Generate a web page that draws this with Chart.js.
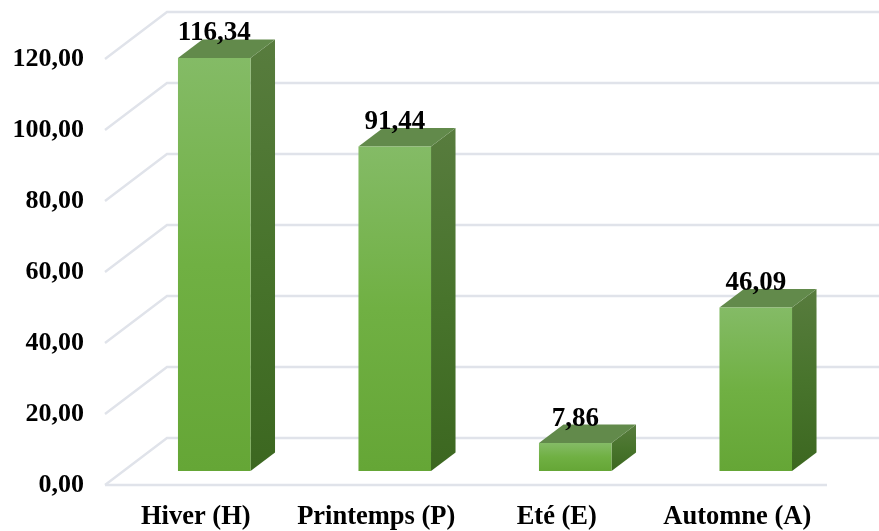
<!DOCTYPE html>
<html><head><meta charset="utf-8">
<style>html,body{margin:0;padding:0;background:#fff}canvas{display:block}</style>
<script src="https://cdn.jsdelivr.net/npm/chart.js@4"></script>
</head><body><canvas id="c" width="879" height="531"></canvas>
<script>
const categories = ["Hiver (H)", "Printemps (P)", "Eté (E)", "Automne (A)"];
const values = [116.34, 91.44, 7.86, 46.09];
const axisMax = 120, axisStep = 20;
const fr = v => v.toFixed(2).replace('.', ',');
const FONT = '"Liberation Serif", serif';
// depth of bars and of the floor/wall box relative to the bar plane
const barDx = 24.5, barDy = -18.5;
const wallBack = {dx: 43, dy: -33}, wallFront = {dx: -19, dy: 14};
const GRID = '#e0e3ea';

const box3d = {
  id: 'box3d',
  beforeDatasetsDraw(chart) {
    const {ctx, chartArea: a, scales: {y}} = chart;
    ctx.save();
    ctx.strokeStyle = GRID; ctx.lineWidth = 2.4; ctx.lineCap = 'butt';
    y.ticks.forEach(t => {
      const py = y.getPixelForValue(t.value);
      ctx.beginPath();
      ctx.moveTo(a.left + wallFront.dx, py + wallFront.dy);
      ctx.lineTo(a.left + wallBack.dx, py + wallBack.dy);
      ctx.lineTo(879, py + wallBack.dy);
      ctx.stroke();
    });
    const p0 = y.getPixelForValue(0);
    ctx.beginPath();
    ctx.moveTo(a.left + wallFront.dx, p0 + wallFront.dy);
    ctx.lineTo(a.right + wallFront.dx, p0 + wallFront.dy);
    ctx.stroke();
    // top and side faces of each bar
    chart.getDatasetMeta(0).data.forEach(b => {
      const l = b.x - b.width / 2, r = b.x + b.width / 2, t = b.y, bt = b.base;
      const side = ctx.createLinearGradient(0, t + barDy, 0, bt);
      side.addColorStop(0, '#587c3e'); side.addColorStop(0.5, '#48742c'); side.addColorStop(1, '#3c6720');
      ctx.fillStyle = side;
      ctx.beginPath();
      ctx.moveTo(r, t); ctx.lineTo(r + barDx, t + barDy); ctx.lineTo(r + barDx, bt + barDy); ctx.lineTo(r, bt);
      ctx.closePath(); ctx.fill();
      ctx.fillStyle = '#628a4b';
      ctx.beginPath();
      ctx.moveTo(l, t); ctx.lineTo(l + barDx, t + barDy); ctx.lineTo(r + barDx, t + barDy); ctx.lineTo(r, t);
      ctx.closePath(); ctx.fill();
    });
    ctx.restore();
  },
  afterDatasetsDraw(chart) {
    const {ctx} = chart;
    ctx.save();
    ctx.fillStyle = '#000';
    ctx.font = 'bold 27px ' + FONT;
    ctx.textAlign = 'center'; ctx.textBaseline = 'alphabetic';
    chart.getDatasetMeta(0).data.forEach((b, i) => {
      ctx.fillText(fr(values[i]), b.x, b.y - 17.5);
    });
    ctx.restore();
  }
};

new Chart(document.getElementById('c'), {
  type: 'bar',
  data: {
    labels: categories,
    datasets: [{
      data: values,
      barPercentage: 1,
      categoryPercentage: 0.402,
      borderWidth: 0,
      backgroundColor(ctx) {
        const {chart, dataIndex} = ctx;
        const y = chart.scales.y;
        if (!y || dataIndex === undefined) return '#70b043';
        const y0 = y.getPixelForValue(values[dataIndex]), y1 = y.getPixelForValue(0);
        if (!Number.isFinite(y0) || !Number.isFinite(y1)) return '#70b043';
        const g = chart.ctx.createLinearGradient(0, y0, 0, y1);
        g.addColorStop(0, '#84bb66'); g.addColorStop(0.5, '#70b043'); g.addColorStop(1, '#65a636');
        return g;
      }
    }]
  },
  options: {
    responsive: false,
    animation: false,
    devicePixelRatio: 1,
    layout: {padding: {top: 45, right: 33, left: 0, bottom: 0}},
    plugins: {legend: {display: false}, tooltip: {enabled: false}, title: {display: false}},
    scales: {
      x: {
        border: {display: false},
        grid: {display: false, drawTicks: false},
        afterFit(s) { s.height = 60; s.paddingLeft = 0; s.paddingRight = 0; },
        ticks: {color: '#000', font: {family: FONT, size: 26.5, weight: 'bold'}, padding: 30, labelOffset: -18.5, maxRotation: 0, autoSkip: false}
      },
      y: {
        min: 0, max: axisMax,
        border: {display: false},
        grid: {display: false, drawTicks: false},
        afterFit(s) { s.width = 124; s.paddingTop = 0; s.paddingBottom = 0; },
        ticks: {stepSize: axisStep, color: '#000', font: {family: FONT, size: 26, weight: 'bold'}, padding: 40, labelOffset: 14, callback: v => fr(v)}
      }
    }
  },
  plugins: [box3d]
});
</script></body></html>
